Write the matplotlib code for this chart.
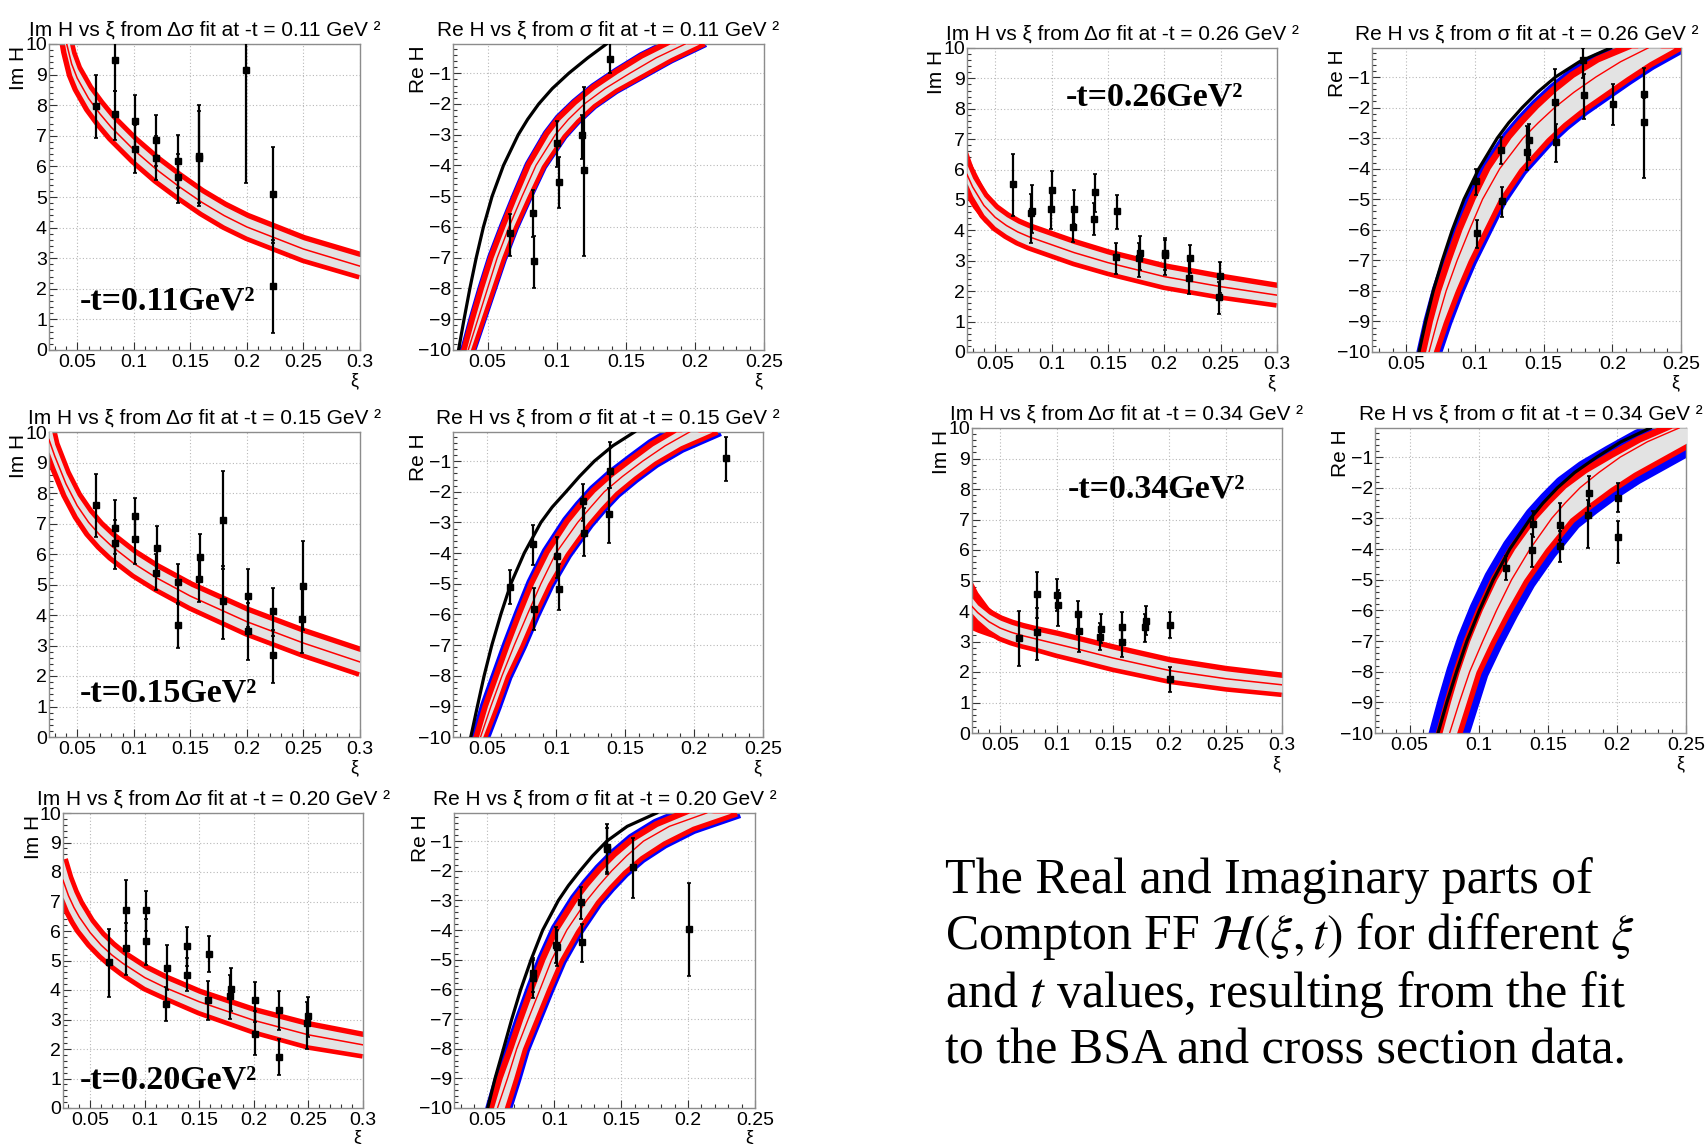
import numpy as np
import matplotlib
matplotlib.use("Agg")
import matplotlib.pyplot as plt
from matplotlib.ticker import MultipleLocator, FuncFormatter

plt.rcParams['font.family'] = ['Liberation Sans', 'DejaVu Sans']
plt.rcParams['mathtext.fontset'] = 'stix'

FIG_W, FIG_H, DPI = 1707, 1144, 100
PX = 72.0 / DPI   # points per pixel

# ---------------- Im H panels (bands: upper / centre / lower) ----------------
im011_xi  = [0.036, 0.04, 0.045, 0.05, 0.06, 0.07, 0.08, 0.10, 0.12, 0.14, 0.16, 0.18, 0.20, 0.25, 0.30]
im011_hi  = [11.5, 10.5, 9.7, 9.2, 8.55, 8.05, 7.6, 6.86, 6.22, 5.66, 5.14, 4.7, 4.33, 3.6, 3.05]
im011_mid = [11.0, 10.1, 9.35, 8.88, 8.22, 7.72, 7.28, 6.54, 5.9, 5.34, 4.83, 4.39, 4.02, 3.3, 2.74]
im011_lo  = [10.6, 9.75, 9.0, 8.55, 7.9, 7.4, 6.96, 6.22, 5.58, 5.03, 4.52, 4.08, 3.72, 3.0, 2.46]

im015_xi  = [0.025, 0.03, 0.04, 0.05, 0.06, 0.07, 0.08, 0.10, 0.12, 0.15, 0.20, 0.25, 0.30]
im015_hi  = [10.4, 9.6, 8.65, 7.92, 7.38, 6.95, 6.6, 6.02, 5.55, 4.95, 4.12, 3.42, 2.8]
im015_mid = [9.75, 9.22, 8.3, 7.58, 7.04, 6.62, 6.27, 5.69, 5.22, 4.62, 3.78, 3.08, 2.46]
im015_lo  = [9.35, 8.85, 7.95, 7.25, 6.7, 6.28, 5.93, 5.36, 4.9, 4.3, 3.45, 2.75, 2.13]

im020_xi  = [0.025, 0.03, 0.035, 0.04, 0.05, 0.06, 0.07, 0.08, 0.10, 0.12, 0.15, 0.20, 0.25, 0.30]
im020_hi  = [8.42, 7.8, 7.32, 6.93, 6.32, 5.86, 5.5, 5.2, 4.72, 4.35, 3.88, 3.26, 2.78, 2.42]
im020_mid = [7.72, 7.2, 6.8, 6.47, 5.94, 5.52, 5.18, 4.9, 4.42, 4.06, 3.6, 2.97, 2.48, 2.14]
im020_lo  = [7.15, 6.7, 6.35, 6.05, 5.58, 5.2, 4.88, 4.6, 4.12, 3.78, 3.3, 2.65, 2.14, 1.84]

im026_xi  = [0.025, 0.03, 0.04, 0.05, 0.06, 0.07, 0.08, 0.10, 0.12, 0.15, 0.20, 0.25, 0.30]
im026_hi  = [6.15, 5.72, 5.12, 4.72, 4.45, 4.24, 4.08, 3.82, 3.56, 3.22, 2.76, 2.42, 2.12]
im026_mid = [5.84, 5.43, 4.82, 4.43, 4.16, 3.95, 3.79, 3.53, 3.27, 2.94, 2.48, 2.15, 1.87]
im026_lo  = [5.55, 5.14, 4.52, 4.13, 3.87, 3.66, 3.5, 3.24, 2.98, 2.66, 2.2, 1.88, 1.62]
im026_fan_hi = [6.65, 6.12, 5.38, 4.86, 4.5]
im026_fan_lo = [5.05, 4.75, 4.28, 4.0, 3.83]

im034_xi  = [0.025, 0.03, 0.04, 0.05, 0.06, 0.07, 0.08, 0.10, 0.12, 0.15, 0.20, 0.25, 0.30]
im034_hi  = [4.43, 4.2, 3.9, 3.7, 3.56, 3.45, 3.36, 3.2, 3.02, 2.75, 2.33, 2.04, 1.82]
im034_mid = [4.15, 3.95, 3.65, 3.44, 3.3, 3.19, 3.1, 2.92, 2.74, 2.46, 2.05, 1.78, 1.58]
im034_lo  = [3.93, 3.72, 3.4, 3.17, 3.03, 2.92, 2.83, 2.62, 2.44, 2.16, 1.77, 1.52, 1.34]
im034_fan_hi = [4.98, 4.62, 4.12, 3.82, 3.62]
im034_fan_lo = [3.38, 3.3, 3.17, 3.05, 2.98]

# Im H data points (value, lower end, upper end of error bar)
im011_pt_xi = [0.0669, 0.0831, 0.0831, 0.1009, 0.1009, 0.1195, 0.1195, 0.1388, 0.1388, 0.158, 0.158, 0.1994, 0.2231, 0.2231]
im011_pt_y  = [7.98, 9.49, 7.71, 7.47, 6.57, 6.86, 6.29, 6.17, 5.64, 6.35, 6.28, 9.16, 5.09, 2.10]
im011_pt_lo = [6.92, 8.45, 6.87, 6.6, 5.78, 6.0, 5.56, 5.3, 4.8, 4.7, 4.8, 5.47, 3.5, 0.55]
im011_pt_hi = [9.0, 10.5, 8.45, 8.34, 7.36, 7.69, 7.0, 7.03, 6.4, 8.02, 7.8, 11.5, 6.65, 3.6]

im015_pt_xi = [0.0669, 0.0831, 0.0831, 0.1009, 0.1009, 0.1201, 0.1195, 0.1388, 0.1394, 0.1586, 0.158, 0.1787, 0.1787, 0.2009, 0.2009, 0.2231, 0.2231, 0.2497, 0.2491]
im015_pt_y  = [7.62, 6.85, 6.36, 7.23, 6.48, 6.2, 5.39, 5.07, 3.66, 5.90, 5.18, 7.1, 4.46, 4.61, 3.46, 4.13, 2.68, 4.94, 3.88]
im015_pt_lo = [6.56, 6.0, 5.52, 6.5, 5.68, 5.4, 4.83, 4.4, 2.93, 5.2, 4.43, 5.5, 3.22, 3.6, 2.51, 3.3, 1.77, 3.5, 2.75]
im015_pt_hi = [8.61, 7.78, 7.1, 7.85, 7.3, 6.91, 6.0, 5.68, 4.35, 6.67, 5.9, 8.72, 5.6, 5.51, 4.4, 4.9, 3.5, 6.42, 4.9]

im020_pt_xi = [0.0668, 0.083, 0.0825, 0.1007, 0.1007, 0.1203, 0.1197, 0.1389, 0.1383, 0.1588, 0.1582, 0.1787, 0.1781, 0.201, 0.201, 0.223, 0.223, 0.2494, 0.2488]
im020_pt_y  = [4.94, 6.72, 5.42, 6.72, 5.65, 4.75, 3.54, 5.48, 4.52, 5.22, 3.66, 4.03, 3.81, 3.66, 2.52, 3.33, 1.73, 3.13, 2.88]
im020_pt_lo = [3.75, 6.0, 4.52, 6.0, 4.86, 4.0, 2.96, 4.8, 3.95, 4.6, 2.99, 3.3, 3.02, 2.9, 1.79, 2.65, 1.13, 2.4, 2.0]
im020_pt_hi = [6.08, 7.74, 6.27, 7.34, 6.4, 5.51, 4.1, 6.12, 5.1, 5.84, 4.3, 4.75, 4.5, 4.27, 3.3, 3.98, 2.35, 3.75, 3.6]

im026_pt_xi = [0.066, 0.0824, 0.0818, 0.1002, 0.0999, 0.1189, 0.1198, 0.1385, 0.1379, 0.1584, 0.1575, 0.1783, 0.1777, 0.2005, 0.2005, 0.2228, 0.2222, 0.2495, 0.2489]
im026_pt_y  = [5.53, 4.65, 4.58, 5.33, 4.7, 4.12, 4.69, 5.27, 4.36, 4.64, 3.11, 3.27, 3.1, 3.25, 3.19, 3.08, 2.45, 2.49, 1.81]
im026_pt_lo = [4.47, 3.9, 3.59, 4.6, 4.03, 3.63, 4.2, 4.6, 3.85, 4.03, 2.56, 2.7, 2.47, 2.7, 2.53, 2.6, 1.92, 1.95, 1.26]
im026_pt_hi = [6.5, 5.49, 5.2, 5.97, 5.3, 4.6, 5.33, 5.86, 4.9, 5.16, 3.57, 3.81, 3.6, 3.74, 3.7, 3.52, 3.0, 2.97, 2.3]

im034_pt_xi = [0.0666, 0.0825, 0.0831, 0.1003, 0.1009, 0.1189, 0.1201, 0.1391, 0.1385, 0.1583, 0.1583, 0.179, 0.1784, 0.2009, 0.2009]
im034_pt_y  = [3.11, 4.57, 3.30, 4.54, 4.21, 3.9, 3.33, 3.42, 3.16, 3.47, 2.98, 3.66, 3.49, 3.55, 1.76]
im034_pt_lo = [2.2, 3.77, 2.4, 4.0, 3.52, 3.4, 2.67, 2.95, 2.73, 3.0, 2.5, 3.2, 3.0, 3.11, 1.35]
im034_pt_hi = [3.99, 5.27, 4.1, 5.05, 4.7, 4.32, 3.8, 3.91, 3.6, 3.96, 3.45, 4.15, 3.9, 3.96, 2.18]

# ---------------- Re H panels (xi of each curve at these Re H levels) ----------------
re_levels = [-10, -9, -8, -7, -6, -5, -4, -3, -2.5, -2, -1.5, -1, -0.5, -0.05]

re011_black = [0.0290, 0.0330, 0.0372, 0.0418, 0.0470, 0.0533, 0.0615, 0.0722, 0.079, 0.087, 0.0968, 0.1088, 0.1225, 0.136]
re011_left  = [0.0345, 0.0405, 0.047, 0.054, 0.0625, 0.0715, 0.081, 0.094, 0.1025, 0.114, 0.1275, 0.144, 0.162, 0.182]
re011_mid   = [0.036, 0.043, 0.050, 0.057, 0.0655, 0.075, 0.085, 0.099, 0.1085, 0.12, 0.135, 0.153, 0.172, 0.193]
re011_right = [0.0375, 0.045, 0.0525, 0.060, 0.0685, 0.0785, 0.089, 0.104, 0.114, 0.126, 0.142, 0.162, 0.182, 0.203]

re015_black = [0.0379, 0.0427, 0.0476, 0.0532, 0.0597, 0.067, 0.0767, 0.0888, 0.097, 0.107, 0.1168, 0.1276, 0.141, 0.1567]
re015_left  = [0.0435, 0.050, 0.058, 0.066, 0.0745, 0.0835, 0.0945, 0.109, 0.118, 0.128, 0.1405, 0.155, 0.17, 0.187]
re015_mid   = [0.045, 0.0525, 0.0606, 0.0695, 0.079, 0.0888, 0.0997, 0.1155, 0.125, 0.1348, 0.148, 0.1627, 0.179, 0.1967]
re015_right = [0.0465, 0.055, 0.063, 0.0735, 0.083, 0.0935, 0.1065, 0.1225, 0.132, 0.1425, 0.156, 0.171, 0.19, 0.213]

re020_black = [0.0502, 0.0557, 0.062, 0.0682, 0.0749, 0.0826, 0.0913, 0.103, 0.1105, 0.1192, 0.1285, 0.1392, 0.1545, 0.1765]
re020_left  = [0.0545, 0.061, 0.069, 0.0765, 0.0845, 0.093, 0.103, 0.117, 0.1255, 0.135, 0.146, 0.159, 0.177, 0.201]
re020_mid   = [0.0575, 0.065, 0.0719, 0.0805, 0.0893, 0.098, 0.1093, 0.1242, 0.1332, 0.1429, 0.154, 0.1666, 0.186, 0.2139]
re020_right = [0.0625, 0.0695, 0.076, 0.085, 0.094, 0.1035, 0.116, 0.131, 0.1405, 0.151, 0.164, 0.181, 0.203, 0.232]

re026_black = [0.0592, 0.0641, 0.0696, 0.0762, 0.0835, 0.092, 0.1028, 0.1162, 0.1245, 0.1344, 0.1455, 0.1586, 0.176, 0.1986]
re026_left  = [0.064, 0.069, 0.075, 0.0825, 0.0905, 0.1, 0.111, 0.126, 0.1355, 0.146, 0.158, 0.172, 0.19, 0.214]
re026_mid   = [0.0665, 0.0725, 0.079, 0.087, 0.096, 0.1055, 0.118, 0.135, 0.146, 0.158, 0.172, 0.188, 0.206, 0.226]
re026_right = [0.0695, 0.077, 0.0855, 0.095, 0.106, 0.117, 0.132, 0.152, 0.164, 0.178, 0.194, 0.21, 0.227, 0.245]

re034_black = [0.0706, 0.077, 0.084, 0.0915, 0.1005, 0.1105, 0.1225, 0.1375, 0.1465, 0.157, 0.1695, 0.1854, 0.203, 0.2241]
re034_left  = [0.0735, 0.0795, 0.086, 0.0935, 0.1025, 0.113, 0.126, 0.142, 0.152, 0.163, 0.178, 0.197, 0.217, 0.24]
re034_mid   = [0.079, 0.086, 0.0935, 0.103, 0.1129, 0.1238, 0.1371, 0.1528, 0.1625, 0.1733, 0.187, 0.2024, 0.222, 0.245]
re034_right = [0.084, 0.091, 0.098, 0.1085, 0.12, 0.1325, 0.148, 0.166, 0.18, 0.195, 0.212, 0.232, 0.252, 0.275]

re011_pt_xi = [0.0665, 0.083, 0.0835, 0.1004, 0.1016, 0.1186, 0.1198, 0.1385]
re011_pt_y  = [-6.19, -5.55, -7.1, -3.27, -4.54, -3.02, -4.16, -0.53]
re011_pt_lo = [-6.95, -6.32, -8.0, -4.05, -5.37, -3.78, -6.95, -1.0]
re011_pt_hi = [-5.57, -4.81, -6.3, -2.56, -3.73, -2.37, -1.45, 0.2]

re015_pt_xi = [0.0665, 0.083, 0.0835, 0.1004, 0.1016, 0.1191, 0.1198, 0.1392, 0.1385, 0.2233]
re015_pt_y  = [-5.1, -3.71, -5.83, -4.09, -5.18, -2.3, -3.36, -1.33, -2.72, -0.89]
re015_pt_lo = [-5.66, -4.38, -6.51, -4.8, -5.86, -2.95, -4.11, -1.87, -3.66, -1.65]
re015_pt_hi = [-4.56, -3.09, -5.14, -3.49, -4.36, -1.74, -2.52, -0.37, -1.87, -0.21]

re020_pt_xi = [0.0839, 0.0844, 0.1011, 0.1018, 0.12, 0.1205, 0.1392, 0.1397, 0.1586, 0.2009]
re020_pt_y  = [-5.45, -5.6, -4.51, -4.57, -3.05, -4.4, -1.28, -1.2, -1.87, -3.95]
re020_pt_lo = [-6.1, -6.28, -5.1, -5.2, -3.61, -5.07, -2.1, -2.05, -2.92, -5.54]
re020_pt_hi = [-4.93, -5.0, -3.89, -4.0, -2.55, -3.78, -0.42, -0.55, -0.9, -2.4]

re026_pt_xi = [0.1004, 0.1011, 0.1186, 0.1198, 0.138, 0.139, 0.1581, 0.159, 0.1787, 0.1797, 0.2005, 0.2228, 0.2228]
re026_pt_y  = [-4.4, -6.11, -3.4, -5.06, -3.46, -3.06, -1.83, -3.13, -0.43, -1.6, -1.87, -1.56, -2.48]
re026_pt_lo = [-4.86, -6.6, -3.84, -5.57, -4.05, -3.73, -3.08, -3.78, -1.02, -2.37, -2.56, -2.4, -4.32]
re026_pt_hi = [-4.0, -5.68, -2.97, -4.61, -2.59, -2.54, -0.73, -2.54, -0.05, -0.9, -1.22, -0.7, -1.7]

re034_pt_xi = [0.1196, 0.139, 0.1386, 0.1588, 0.1588, 0.1796, 0.1789, 0.2007, 0.2007]
re034_pt_y  = [-4.61, -3.17, -4.02, -3.2, -3.9, -2.17, -2.9, -2.33, -3.6]
re034_pt_lo = [-5.01, -3.6, -4.58, -3.7, -4.42, -2.6, -3.95, -2.8, -4.47]
re034_pt_hi = [-4.22, -2.76, -3.5, -2.5, -3.4, -1.63, -2.4, -1.85, -3.1]

t_labels = ['0.11', '0.15', '0.20', '0.26', '0.34']

GREY = '#e3e3e3'


def box(l, t, r, b):
    return [l / FIG_W, 1 - b / FIG_H, (r - l) / FIG_W, (b - t) / FIG_H]


def fmt(v, pos):
    return f"{v:g}".replace('-', '\u2212')


def style(ax, xmax, ylim, title, ylabel, ylabel_x):
    ax.set_xlim(0.025, xmax)
    ax.set_ylim(*ylim)
    ax.xaxis.set_major_locator(MultipleLocator(0.05))
    ax.xaxis.set_minor_locator(MultipleLocator(0.01))
    ax.yaxis.set_major_locator(MultipleLocator(1))
    ax.yaxis.set_minor_locator(MultipleLocator(0.2))
    ax.xaxis.set_major_formatter(FuncFormatter(fmt))
    ax.yaxis.set_major_formatter(FuncFormatter(fmt))
    ax.tick_params(which='both', direction='in', top=False, right=False,
                   color='#333333', width=0.8, labelsize=14)
    ax.tick_params(which='major', length=8 * PX)
    ax.tick_params(which='minor', length=4 * PX)
    ax.tick_params(axis='y', pad=1.5)
    ax.tick_params(axis='x', pad=3)
    ax.grid(True, which='major', color='#b8b8b8', ls=(0, (1, 2)), lw=0.8)
    ax.set_axisbelow(True)
    for s in ax.spines.values():
        s.set_color('#8c8c8c')
        s.set_linewidth(1.0)
    ax.set_title(title, fontsize=15, pad=6)
    ax.text(ylabel_x, 0.995, ylabel, rotation=90, ha='center', va='top',
            transform=ax.transAxes, fontsize=15)
    ax.text(0.995, -0.072, '\u03be', ha='right', va='top',
            transform=ax.transAxes, fontsize=13)


def draw_points(ax, x, y, lo, hi):
    x, y, lo, hi = map(np.asarray, (x, y, lo, hi))
    ax.errorbar(x, y, yerr=[y - lo, hi - y], fmt='s', ms=5, color='black',
                ecolor='black', elinewidth=1.6, capsize=1.6, capthick=1.2, zorder=8)


def draw_im(ax, xi, hi, mid, lo, fan_hi=None, fan_lo=None):
    if fan_hi is not None:
        n = len(fan_hi)
        ax.fill_between(xi[:n], hi[:n], fan_hi, color='red', lw=0, zorder=2)
        ax.fill_between(xi[:n], fan_lo, lo[:n], color='red', lw=0, zorder=2)
    for edge in (hi, lo):
        ax.plot(xi, edge, color='red', lw=10 * PX, solid_capstyle='butt',
                solid_joinstyle='round', zorder=2)
    ax.fill_between(xi, lo, hi, color=GREY, lw=0, zorder=3)
    ax.plot(xi, mid, color='red', lw=1.1, zorder=4)


def draw_re(ax, left, mid, right, black, red_px, blue_px):
    lv = re_levels
    for edge in (left, right):
        ax.plot(edge, lv, color='blue', lw=2 * (red_px + blue_px) * PX,
                solid_capstyle='projecting', solid_joinstyle='round', zorder=2)
    for edge in (left, right):
        ax.plot(edge, lv, color='red', lw=2 * red_px * PX,
                solid_capstyle='projecting', solid_joinstyle='round', zorder=3)
    ax.fill_betweenx(lv, left, right, color=GREY, lw=0, zorder=4)
    ax.plot(mid, lv, color='red', lw=1.0, zorder=5)
    ax.plot(black, lv, color='black', lw=2.3, zorder=6)


fig = plt.figure(figsize=(FIG_W / DPI, FIG_H / DPI), dpi=DPI)
fig.patch.set_facecolor('white')

im_boxes = [box(49, 44, 360, 350), box(49, 432, 360, 737), box(63, 813, 363, 1108),
            box(967, 48, 1277, 352), box(972, 428, 1282, 733)]
re_boxes = [box(453, 44, 764, 350), box(453, 432, 763, 737), box(454, 813, 755, 1108),
            box(1372, 48, 1681, 352), box(1375, 428, 1686, 733)]

im_bands = [(im011_xi, im011_hi, im011_mid, im011_lo, None, None),
            (im015_xi, im015_hi, im015_mid, im015_lo, None, None),
            (im020_xi, im020_hi, im020_mid, im020_lo, None, None),
            (im026_xi, im026_hi, im026_mid, im026_lo, im026_fan_hi, im026_fan_lo),
            (im034_xi, im034_hi, im034_mid, im034_lo, im034_fan_hi, im034_fan_lo)]
im_points = [(im011_pt_xi, im011_pt_y, im011_pt_lo, im011_pt_hi),
             (im015_pt_xi, im015_pt_y, im015_pt_lo, im015_pt_hi),
             (im020_pt_xi, im020_pt_y, im020_pt_lo, im020_pt_hi),
             (im026_pt_xi, im026_pt_y, im026_pt_lo, im026_pt_hi),
             (im034_pt_xi, im034_pt_y, im034_pt_lo, im034_pt_hi)]
re_bands = [(re011_left, re011_mid, re011_right, re011_black, 5, 1),
            (re015_left, re015_mid, re015_right, re015_black, 5, 2.5),
            (re020_left, re020_mid, re020_right, re020_black, 5.5, 2.5),
            (re026_left, re026_mid, re026_right, re026_black, 6, 3),
            (re034_left, re034_mid, re034_right, re034_black, 6, 7)]
re_points = [(re011_pt_xi, re011_pt_y, re011_pt_lo, re011_pt_hi),
             (re015_pt_xi, re015_pt_y, re015_pt_lo, re015_pt_hi),
             (re020_pt_xi, re020_pt_y, re020_pt_lo, re020_pt_hi),
             (re026_pt_xi, re026_pt_y, re026_pt_lo, re026_pt_hi),
             (re034_pt_xi, re034_pt_y, re034_pt_lo, re034_pt_hi)]

# position of the bold -t label inside each Im panel (axes fraction)
tag_pos = [(0.10, 0.16), (0.10, 0.145), (0.057, 0.095), (0.32, 0.84), (0.31, 0.80)]

for i, t in enumerate(t_labels):
    ax = fig.add_axes(im_boxes[i])
    style(ax, 0.3, (0, 10), f"Im H vs \u03be from \u0394\u03c3 fit at -t = {t} GeV \u00b2",
          'Im H', -0.098)
    draw_im(ax, *im_bands[i])
    draw_points(ax, *im_points[i])
    ax.text(tag_pos[i][0], tag_pos[i][1], f"-t={t}GeV\u00b2", transform=ax.transAxes,
            family=['Liberation Serif', 'DejaVu Serif'], weight='bold', fontsize=24.5,
            ha='left', va='center', zorder=10)

    ax = fig.add_axes(re_boxes[i])
    style(ax, 0.25, (-10, -0.05), f"Re H vs \u03be from \u03c3 fit at -t = {t} GeV \u00b2",
          'Re H', -0.112)
    draw_re(ax, *re_bands[i])
    draw_points(ax, *re_points[i])

caption = ["The Real and Imaginary parts of",
           r"Compton FF $\mathcal{H}(\xi,t)$ for different $\xi$",
           r"and $t$ values, resulting from the fit",
           "to the BSA and cross section data."]
baselines = [893, 949, 1007, 1064]
for line, yb in zip(caption, baselines):
    fig.text(945 / FIG_W, 1 - yb / FIG_H, line, family=['Liberation Serif', 'DejaVu Serif'],
             fontsize=36, ha='left', va='baseline')

fig.savefig('out.png', dpi=DPI, facecolor='white')
